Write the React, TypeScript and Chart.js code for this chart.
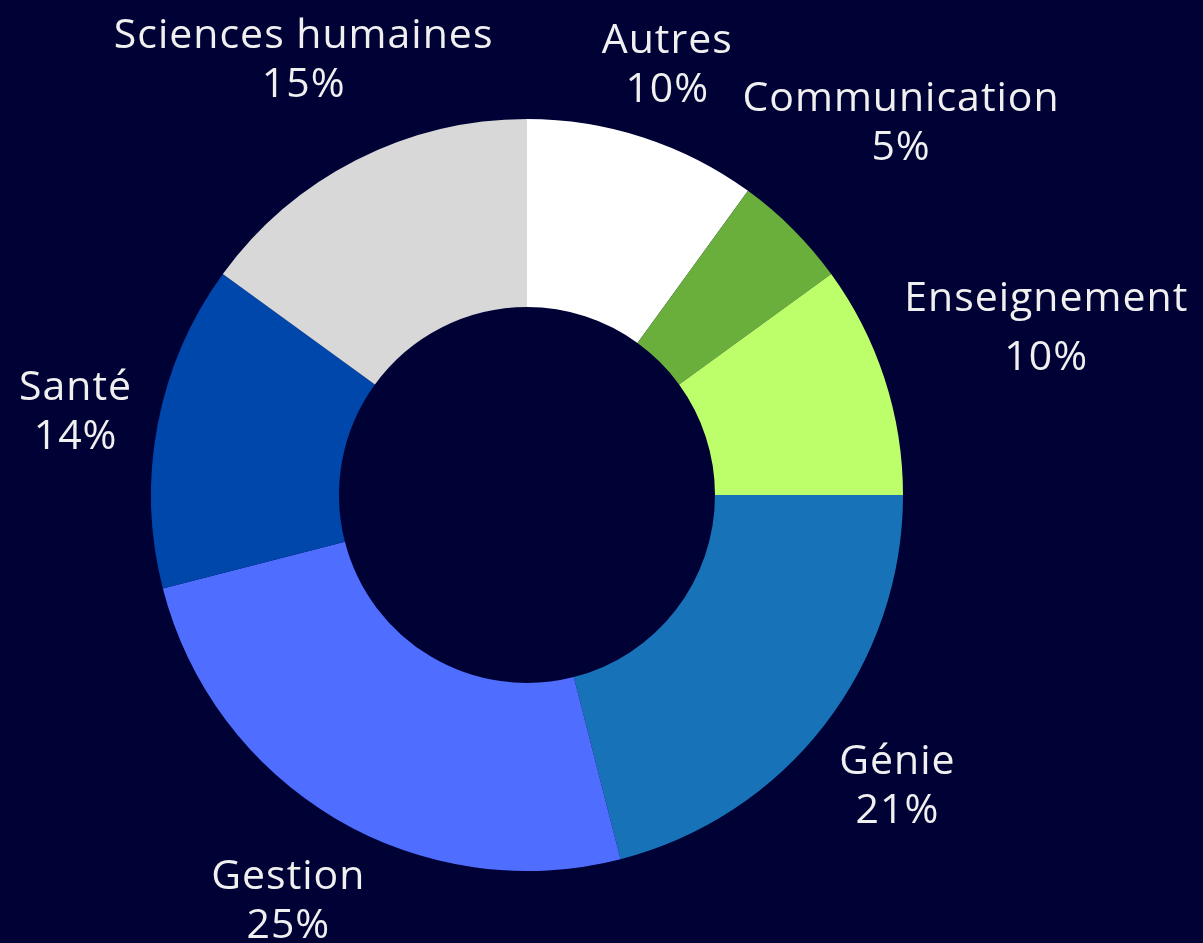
import React, { useEffect, useRef } from "react";
import { Chart, registerables } from "chart.js";

Chart.register(...registerables);

const categories = ["Autres", "Communication", "Enseignement", "Génie", "Gestion", "Santé", "Sciences humaines"];
const shares = [10, 5, 10, 21, 25, 14, 15];
const sliceColors = ["#ffffff", "#6aaf3c", "#bdff6b", "#1872b8", "#4f6eff", "#0047ab", "#d8d8d8"];

const BG = "#000236";
const TEXT_COLOR = "#f0f0f0";
const FONT = "41px 'Open Sans'";
const LETTER_SPACING = "1px";
const LINE_GAP = 20;
const LABEL_CLEARANCE = 24;

const outsideLabels = {
  id: "outsideLabels",
  afterDatasetsDraw(chart: any) {
    const ctx = chart.ctx as any;
    const meta = chart.getDatasetMeta(0);
    const data = chart.data.datasets[0].data as number[];
    const labels = chart.data.labels as string[];
    ctx.save();
    ctx.font = FONT;
    if ("letterSpacing" in ctx) ctx.letterSpacing = LETTER_SPACING;
    ctx.fillStyle = TEXT_COLOR;
    ctx.textAlign = "center";
    ctx.textBaseline = "alphabetic";
    meta.data.forEach((arc: any, i: number) => {
      const { x, y, startAngle, endAngle, outerRadius } = arc.getProps(
        ["x", "y", "startAngle", "endAngle", "outerRadius"],
        true
      );
      const mid = (startAngle + endAngle) / 2;
      const vx = Math.cos(mid);
      const vy = Math.sin(mid);
      const lines = [labels[i], data[i] + "%"];
      const m = lines.map((l) => ctx.measureText(l));
      const widths = m.map((mm: any) => mm.actualBoundingBoxLeft + mm.actualBoundingBoxRight);
      const w = Math.max(...widths);
      const asc1 = m[0].actualBoundingBoxAscent;
      const desc1 = Math.max(0, m[0].actualBoundingBoxDescent);
      const asc2 = m[1].actualBoundingBoxAscent;
      const desc2 = Math.max(0, m[1].actualBoundingBoxDescent);
      const h = asc1 + desc1 + LINE_GAP + asc2 + desc2;
      const target = outerRadius + LABEL_CLEARANCE;
      const distTo = (t: number) => {
        const cx = x + vx * t;
        const cy = y + vy * t;
        const dx = Math.max(Math.abs(x - cx) - w / 2, 0);
        const dy = Math.max(Math.abs(y - cy) - h / 2, 0);
        return Math.sqrt(dx * dx + dy * dy);
      };
      let lo = 0;
      let hi = target + w + h;
      for (let k = 0; k < 60; k++) {
        const md = (lo + hi) / 2;
        if (distTo(md) < target) lo = md;
        else hi = md;
      }
      const cx = x + vx * hi;
      const cy = y + vy * hi;
      const top = cy - h / 2;
      const b1 = top + asc1;
      const b2 = b1 + desc1 + LINE_GAP + asc2;
      ctx.fillText(lines[0], cx, b1);
      ctx.fillText(lines[1], cx, b2);
    });
    ctx.restore();
  },
};

export default function App() {
  const ref = useRef<HTMLCanvasElement | null>(null);
  useEffect(() => {
    document.body.style.margin = "0";
    document.body.style.background = BG;
    if (!ref.current) return;
    const chart = new Chart(ref.current, {
      type: "doughnut",
      data: {
        labels: categories,
        datasets: [
          {
            data: shares,
            backgroundColor: sliceColors,
            borderWidth: 0,
          },
        ],
      },
      options: {
        animation: false,
        responsive: false,
        cutout: "50%",
        layout: { padding: { left: 151, right: 300, top: 119, bottom: 72 } },
        plugins: {
          legend: { display: false },
          tooltip: { enabled: false },
        },
      },
      plugins: [outsideLabels],
    });
    return () => chart.destroy();
  }, []);
  return (
    <div style={{ width: 1203, height: 943, background: BG }}>
      <canvas ref={ref} width={1203} height={943} style={{ display: "block" }} />
    </div>
  );
}
